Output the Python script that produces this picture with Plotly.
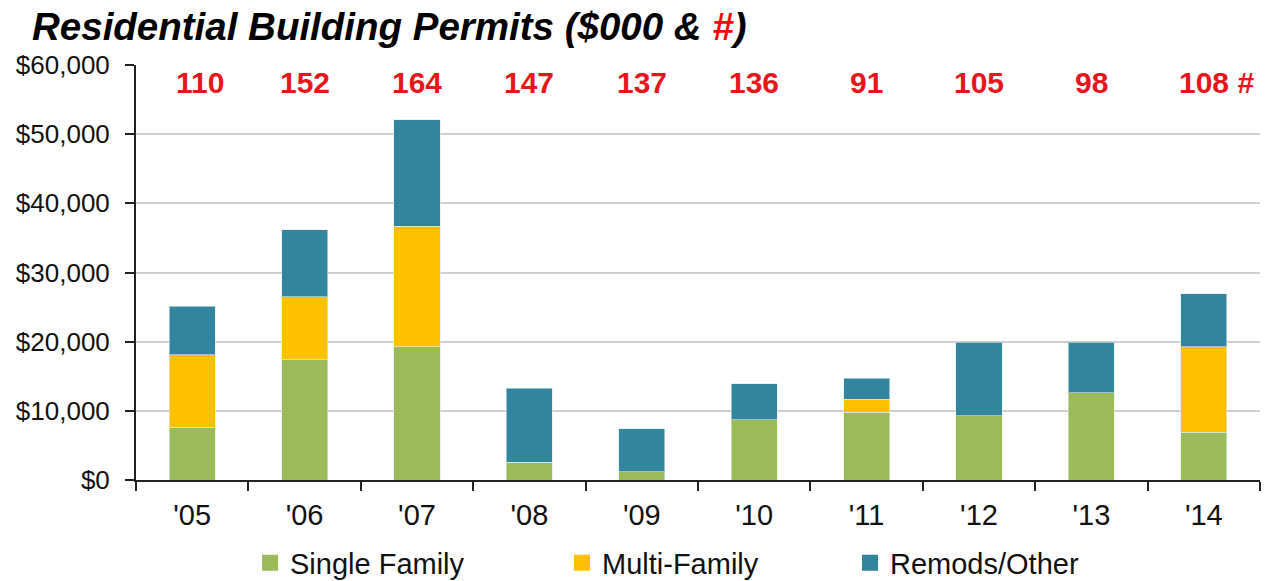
import plotly.graph_objects as go

years = ["'05", "'06", "'07", "'08", "'09", "'10", "'11", "'12", "'13", "'14"]
single_family = [7600, 17400, 19300, 2600, 1200, 8700, 9800, 9300, 12600, 6900]
multi_family = [10500, 9100, 17400, 0, 0, 0, 1900, 0, 0, 12400]
remods_other = [7000, 9700, 15400, 10700, 6200, 5200, 3000, 10600, 7300, 7600]
permit_counts = ["110", "152", "164", "147", "137", "136", "91", "105", "98", "108"]

FONT = "Liberation Sans, Arial, sans-serif"

series = [("Single Family", single_family, "#9BBB59", "legend", 250),
          ("Multi-Family", multi_family, "#FFC000", "legend2", 562),
          ("Remods/Other", remods_other, "#31859C", "legend3", 850)]

fig = go.Figure()
for name, vals, col, leg, _ in series:
    fig.add_trace(go.Bar(x=years, y=vals, name=name, marker_color=col, showlegend=False,
                         marker_line=dict(color="rgba(220,235,240,0.6)", width=1)))
# legend swatches (larger squares like the reference)
for name, vals, col, leg, _ in series:
    fig.add_trace(go.Scatter(x=[None], y=[None], mode="markers", name=name, legend=leg,
                             marker=dict(symbol="square", size=16, color=col)))

for i, (yr, c) in enumerate(zip(years, permit_counts)):
    last = i == len(years) - 1
    fig.add_annotation(x=yr, y=57400, xref="x", yref="y",
                       text=c + (" #" if last else ""), showarrow=False,
                       xshift=13 if last else (8 if i == 0 else 0),
                       font=dict(family=FONT, size=30, color="#E8161B", weight="bold"))

legend_common = dict(orientation="h", xref="container", yref="container", xanchor="left",
                     y=0.031, yanchor="middle", bgcolor="rgba(0,0,0,0)",
                     font=dict(family=FONT, size=29, color="#111111"))
layout_legends = {}
for name, vals, col, leg, xpx in series:
    layout_legends[leg] = dict(legend_common, x=xpx / 1270)

fig.update_layout(
    barmode="stack",
    bargap=0.59,
    width=1270, height=581,
    margin=dict(l=136, r=10, t=65, b=101, autoexpand=False),
    paper_bgcolor="white", plot_bgcolor="white",
    font=dict(family=FONT, color="#111111"),
    title=dict(text="<b><i>Residential Building Permits ($000 & <span style='color:#FF0000'>#</span>)</i></b>",
               x=32 / 1270, xanchor="left", y=0.955, yanchor="middle",
               font=dict(family=FONT, size=38.5, color="black")),
    showlegend=True,
    **layout_legends,
)
fig.update_yaxes(range=[0, 60000], dtick=10000, tickprefix="$", tickformat=",",
                 showgrid=True, gridcolor="#D0D0D0", gridwidth=2,
                 showline=True, linecolor="#222222", linewidth=2, automargin=False,
                 ticks="outside", ticklen=9, tickwidth=2, tickcolor="#222222",
                 ticklabelstandoff=10,
                 tickfont=dict(family=FONT, size=26, color="#111111"), zeroline=False)
fig.update_xaxes(showline=True, linecolor="#222222", linewidth=2, automargin=False,
                 ticks="outside", tickson="boundaries", ticklen=9, tickwidth=2, tickcolor="#222222",
                 ticklabelstandoff=8,
                 tickfont=dict(family=FONT, size=29, color="#111111"))

fig.write_html("out.html", post_script="document.body.style.margin='0';",
               config={"displayModeBar": False})
